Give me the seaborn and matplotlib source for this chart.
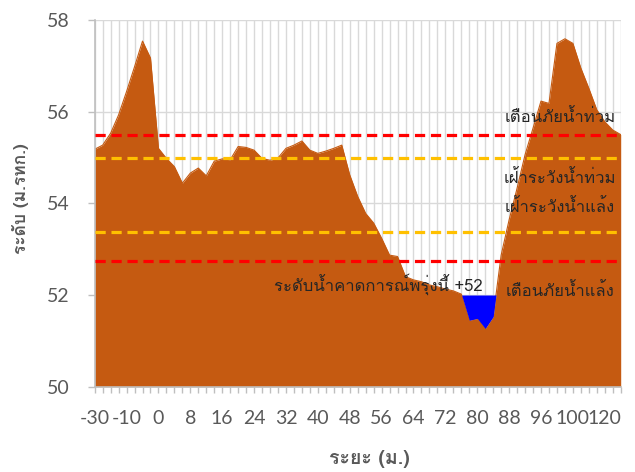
import matplotlib
matplotlib.use("Agg")
import matplotlib.pyplot as plt
from matplotlib import font_manager as fm
from matplotlib.ft2font import FT2Font
import seaborn as sns
import numpy as np
import pandas as pd

# ---------------- data ----------------
ground_level = [55.18, 55.27, 55.53, 55.93, 56.44, 56.98, 57.54, 57.17, 55.20, 54.98,
                54.80, 54.44, 54.66, 54.77, 54.60, 54.92, 54.97, 54.95, 55.24, 55.22,
                55.16, 54.98, 54.94, 54.99, 55.20, 55.27, 55.36, 55.16, 55.09, 55.14,
                55.20, 55.27, 54.62, 54.15, 53.78, 53.57, 53.24, 52.87, 52.84, 52.40,
                52.33, 52.29, 52.22, 52.18, 52.13, 52.09, 52.02, 51.45, 51.49, 51.27,
                51.53, 52.87, 53.64, 54.33, 55.06, 55.64, 56.23, 56.18, 57.49, 57.59,
                57.49, 56.95, 56.51, 56.04, 55.78, 55.60, 55.50]
tick_labels = ["-30", "-10", "0", "8", "16", "24", "32", "40", "48", "56", "64",
               "72", "80", "88", "96", "100", "120"]
water_level = 52.0
flood_warning = 55.5      # เตือนภัยน้ำท่วม
flood_watch = 55.0        # เฝ้าระวังน้ำท่วม
drought_watch = 53.37     # เฝ้าระวังน้ำแล้ง
drought_warning = 52.75   # เตือนภัยน้ำแล้ง
yticks = [50, 52, 54, 56, 58]

df = pd.DataFrame({"pos": np.arange(len(ground_level)), "level": ground_level})

# ---------------- fonts ----------------
def find_thai_font():
    seen = set()
    for f in fm.fontManager.ttflist:
        if f.name in seen:
            continue
        seen.add(f.name)
        try:
            ft = FT2Font(f.fname)
            if ft.get_char_index(ord("ร")) and ft.get_char_index(ord("น")):
                return f.name
        except Exception:
            pass
    return "DejaVu Sans"

sns.set_theme(style="white")
thai = find_thai_font()
plt.rcParams["font.family"] = [thai, "DejaVu Sans"]
num_font = ["Lato", "DejaVu Sans"]

# ---------------- figure ----------------
fig = plt.figure(figsize=(6.35, 4.72), dpi=100)
ax = fig.add_axes([94.7 / 635, 1 - 386.7 / 472, 526 / 635, 366.7 / 472])

n = len(ground_level)
x = df["pos"].to_numpy()
g = df["level"].to_numpy()

ax.fill_between(x, 50, g, color="#C55A11", lw=0, zorder=2)
sns.lineplot(data=df, x="pos", y="level", color="#C55A11", lw=0.8, ax=ax, zorder=2)
ax.fill_between(x, g, water_level, where=(g < water_level), interpolate=True,
                color="#0000FF", lw=0, zorder=3)

for val, col in [(flood_warning, "#FF0000"), (flood_watch, "#FFC000"),
                 (drought_watch, "#FFC000"), (drought_warning, "#FF0000")]:
    ax.axhline(val, color=col, lw=2.3, ls=(0, (3.2, 1.8)), zorder=4)

ax.set_xlim(0, n - 1)
ax.set_ylim(50, 58)
ax.set_xticks(np.arange(0, n, 4))
ax.set_xticks(np.arange(n), minor=True)
ax.set_xticklabels(tick_labels, fontfamily=num_font, fontsize=14, color="#595959")
ax.set_yticks(yticks)
ax.set_yticklabels([str(v) for v in yticks], fontfamily=num_font, fontsize=14, color="#595959")

ax.grid(True, which="both", axis="x", color="#D9D9D9", lw=1, zorder=0)
ax.grid(True, which="major", axis="y", color="#D9D9D9", lw=1, zorder=0)
ax.set_axisbelow(True)

ax.tick_params(axis="x", which="both", direction="out", length=4, width=1,
               color="#BFBFBF", bottom=True, pad=13)
ax.tick_params(axis="y", which="major", direction="out", length=5, width=1,
               color="#BFBFBF", left=True, pad=13)
for s in ["top", "right"]:
    ax.spines[s].set_visible(False)
for s in ["left", "bottom"]:
    ax.spines[s].set_color("#BFBFBF")
    ax.spines[s].set_linewidth(1.2)

ax.set_xlabel("")
ax.set_ylabel("")
fig.text(369 / 635, 1 - 459 / 472, "ระยะ (ม.)", ha="center", va="center",
         fontsize=14, fontweight="bold", color="#595959")
fig.text(21 / 635, 1 - 199 / 472, "ระดับ (ม.รทก.)", ha="center", va="center",
         rotation=90, fontsize=12.5, fontweight="bold", color="#595959")

tc = "#262626"
ax.text(58.4, 55.88, "เตือนภัยน้ำท่วม", ha="center", va="center", fontsize=12, color=tc, zorder=5)
ax.text(58.4, 54.55, "เฝ้าระวังน้ำท่วม", ha="center", va="center", fontsize=12, color=tc, zorder=5)
ax.text(58.4, 53.92, "เฝ้าระวังน้ำแล้ง", ha="center", va="center", fontsize=12, color=tc, zorder=5)
ax.text(58.4, 52.07, "เตือนภัยน้ำแล้ง", ha="center", va="center", fontsize=12, color=tc, zorder=5)
ax.text(35.6, 52.24, "ระดับน้ำคาดการณ์พรุ่งนี้ +52", ha="center", va="center",
        fontsize=12, color=tc, zorder=5)

fig.savefig("out.png", dpi=100)
